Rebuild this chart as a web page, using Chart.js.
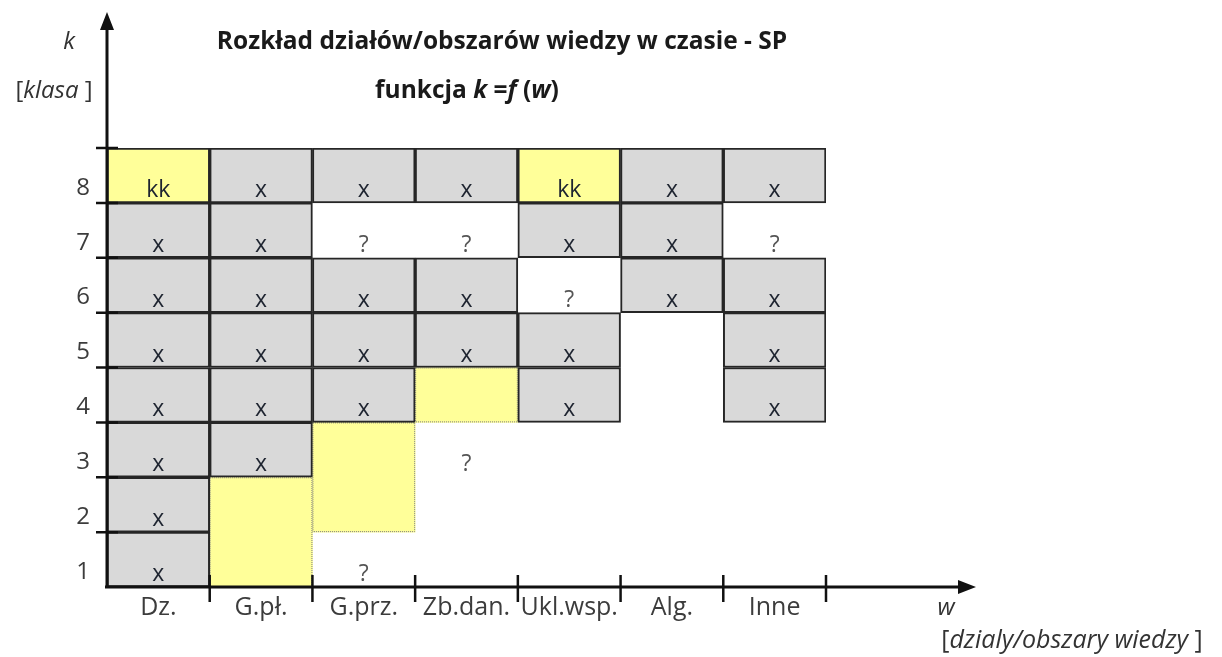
<!DOCTYPE html>
<html>
<head>
<meta charset="utf-8">
<title>Rozkład działów</title>
<script src="https://cdn.jsdelivr.net/npm/chart.js@4.4.1/dist/chart.umd.min.js"></script>
<style>
  html, body { margin: 0; padding: 0; background: #fff; }
</style>
</head>
<body>
<canvas id="canvas" width="1222" height="657"></canvas>
<script>
// kategorie (działy) i klasy
const categories = ['Dz.', 'G.pł.', 'G.prz.', 'Zb.dan.', 'Ukl.wsp.', 'Alg.', 'Inne'];
const classLabels = ['1', '2', '3', '4', '5', '6', '7', '8'];

// oznaczenia w komórkach, od klasy 1 do 8: 'x', 'kk', '?' albo ''
const class1 = ['x', '', '?', '', '', '', ''];
const class2 = ['x', '', '', '', '', '', ''];
const class3 = ['x', 'x', '', '?', '', '', ''];
const class4 = ['x', 'x', 'x', '', 'x', '', 'x'];
const class5 = ['x', 'x', 'x', 'x', 'x', '', 'x'];
const class6 = ['x', 'x', 'x', 'x', '?', 'x', 'x'];
const class7 = ['x', 'x', '?', '?', 'x', 'x', '?'];
const class8 = ['kk', 'x', 'x', 'x', 'kk', 'x', 'x'];

// żółte pola bez tekstu: [dział, od, do]
const yellowBlocks = [['G.pł.', 0, 2], ['G.prz.', 1, 3], ['Zb.dan.', 3, 4]];

const FONT = "'Open Sans', 'Noto Sans', sans-serif";
const classRows = [class1, class2, class3, class4, class5, class6, class7, class8];

let grayCells = [];
let yellowCells = [];
classRows.forEach((row, r) => {
  row.forEach((mark, c) => {
    if (mark === 'x') grayCells.push({ x: categories[c], y: [r, r + 1] });
    if (mark === 'kk') yellowCells.push({ x: categories[c], y: [r, r + 1], kind: 'kk' });
  });
});
yellowBlocks.forEach(b => yellowCells.push({ x: b[0], y: [b[1], b[2]], kind: 'block' }));

// kropkowana ramka żółtych pól
const yellowOutline = {
  id: 'yellowOutline',
  afterDatasetDraw(chart, args) {
    if (args.index !== 1) return;
    const ctx = chart.ctx;
    const data = chart.data.datasets[1].data;
    ctx.save();
    ctx.strokeStyle = '#7a7a7a';
    ctx.lineWidth = 1;
    ctx.setLineDash([1, 1]);
    args.meta.data.forEach((el, i) => {
      if (data[i].kind !== 'block') return;
      const left = el.x - el.width / 2;
      ctx.strokeRect(left + 0.5, el.y + 0.5, el.width - 1, el.base - el.y - 1);
    });
    ctx.restore();
  }
};

// teksty w komórkach
const marksText = {
  id: 'marksText',
  afterDatasetsDraw(chart) {
    const ctx = chart.ctx;
    const xs = chart.scales.x, ys = chart.scales.y;
    ctx.save();
    ctx.font = '23px ' + FONT;
    ctx.textAlign = 'center';
    ctx.textBaseline = 'alphabetic';
    classRows.forEach((row, r) => {
      row.forEach((mark, c) => {
        if (!mark) return;
        ctx.fillStyle = mark === '?' ? '#555555' : '#1e2430';
        ctx.fillText(mark, xs.getPixelForValue(c), ys.getPixelForValue(r) - 6);
      });
    });
    ctx.restore();
  }
};

function drawRuns(ctx, runs, cx, cy, size) {
  let total = 0;
  runs.forEach(r => { ctx.font = r[1] + ' ' + size + 'px ' + FONT; r.w = ctx.measureText(r[0]).width; total += r.w; });
  let x = cx - total / 2;
  ctx.textAlign = 'left';
  runs.forEach(r => { ctx.font = r[1] + ' ' + size + 'px ' + FONT; ctx.fillText(r[0], x, cy); x += r.w; });
}

// osie ze strzałkami, kreski podziałki, tytuły
const axesAndTitles = {
  id: 'axesAndTitles',
  afterDraw(chart) {
    const ctx = chart.ctx;
    const xs = chart.scales.x, ys = chart.scales.y;
    const x0 = chart.chartArea.left, y0 = ys.getPixelForValue(0);
    const half = (xs.getPixelForValue(1) - xs.getPixelForValue(0)) / 2;
    ctx.save();
    ctx.strokeStyle = '#111';
    ctx.fillStyle = '#111';
    ctx.lineWidth = 3;
    ctx.beginPath();
    ctx.moveTo(x0, y0 + 1); ctx.lineTo(x0, 28);
    ctx.moveTo(x0 - 2, y0); ctx.lineTo(960, y0);
    ctx.stroke();
    ctx.beginPath();
    ctx.moveTo(x0, 12); ctx.lineTo(x0 - 7, 30); ctx.lineTo(x0 + 7, 30); ctx.closePath();
    ctx.moveTo(976, y0); ctx.lineTo(958, y0 - 7); ctx.lineTo(958, y0 + 7); ctx.closePath();
    ctx.fill();
    ctx.lineWidth = 2.5;
    ctx.beginPath();
    for (let i = 0; i < categories.length; i++) {
      const bx = xs.getPixelForValue(i) + half;
      ctx.moveTo(bx, y0 - 12); ctx.lineTo(bx, y0 + 15);
    }
    for (let v = 1; v <= classLabels.length; v++) {
      const by = ys.getPixelForValue(v);
      ctx.moveTo(x0 - 11, by); ctx.lineTo(x0 + 11, by);
    }
    ctx.stroke();

    ctx.textBaseline = 'middle';
    ctx.fillStyle = '#1a1a1a';
    drawRuns(ctx, [['Rozkład działów/obszarów wiedzy w czasie - SP', 'bold']], 502, 42, 24.5);
    drawRuns(ctx, [['funkcja ', 'bold'], ['k', 'italic bold'], [' =', 'bold'], ['f', 'italic bold'],
      [' (', 'bold'], ['w', 'italic bold'], [')', 'bold']], 467, 91, 24.5);
    ctx.fillStyle = '#333';
    drawRuns(ctx, [['k', 'italic']], 69, 42, 24);
    drawRuns(ctx, [['[', 'normal'], ['klasa', 'italic'], [' ]', 'normal']], 54, 91, 24);
    drawRuns(ctx, [['w', 'italic']], 946, 608, 24);
    drawRuns(ctx, [['[', 'normal'], ['dzialy/obszary wiedzy', 'italic'], [' ]', 'normal']], 1072, 641, 25);
    ctx.restore();
  }
};

const canvas = document.getElementById('canvas');
new Chart(canvas, {
  type: 'bar',
  data: {
    labels: categories,
    datasets: [{
      label: 'x',
      data: grayCells,
      backgroundColor: '#d9d9d9',
      borderColor: '#262626',
      borderWidth: 2,
      borderSkipped: false,
      grouped: false,
      barPercentage: 1,
      categoryPercentage: 1
    }, {
      label: 'kk',
      data: yellowCells,
      backgroundColor: '#ffff99',
      borderColor: '#262626',
      borderWidth: c => (c.raw && c.raw.kind === 'kk' ? 2 : 0),
      borderSkipped: false,
      grouped: false,
      barPercentage: 1,
      categoryPercentage: 1
    }]
  },
  options: {
    responsive: false,
    animation: false,
    devicePixelRatio: 1,
    layout: { padding: { top: 148, right: 396, bottom: 0, left: 0 } },
    plugins: {
      legend: { display: false },
      tooltip: { enabled: false }
    },
    scales: {
      x: {
        type: 'category',
        offset: true,
        grid: { display: false, drawTicks: false },
        border: { display: false },
        ticks: { color: '#3c3c3c', font: { family: FONT, size: 25 }, padding: 6, maxRotation: 0, autoSkip: false },
        afterFit: s => { s.height = 70; }
      },
      y: {
        type: 'linear',
        min: 0,
        max: 8,
        grid: { display: false, drawTicks: false },
        border: { display: false },
        afterBuildTicks: s => { s.ticks = classLabels.map((l, i) => ({ value: i })); },
        ticks: {
          callback: v => classLabels[v],
          color: '#3c3c3c',
          font: { family: FONT, size: 24 },
          padding: 17,
          labelOffset: -15
        },
        afterFit: s => { s.width = 107; }
      }
    }
  },
  plugins: [yellowOutline, marksText, axesAndTitles]
});
</script>
</body>
</html>
